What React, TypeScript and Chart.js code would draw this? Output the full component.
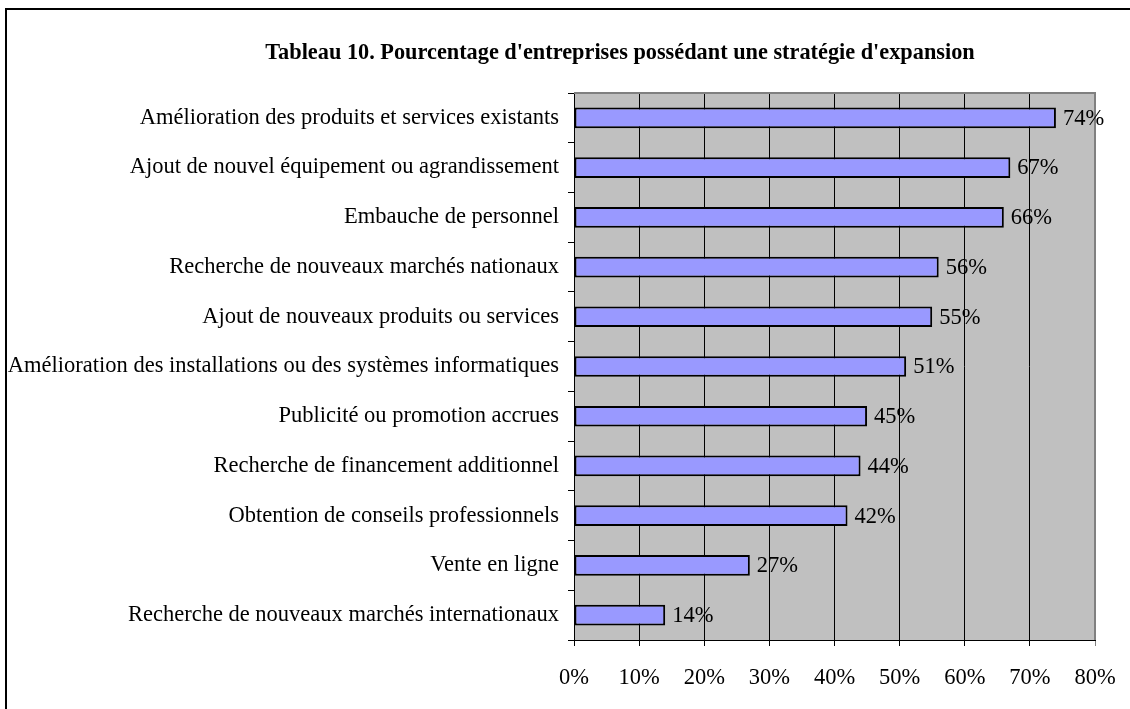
import React, { useEffect, useRef } from "react";
import { Chart, registerables } from "chart.js";

Chart.register(...registerables);

const TITLE = "Tableau 10. Pourcentage d'entreprises possédant une stratégie d'expansion";

const categories = [
  "Amélioration des produits et services existants",
  "Ajout de nouvel équipement ou agrandissement",
  "Embauche de personnel",
  "Recherche de nouveaux marchés nationaux",
  "Ajout de nouveaux produits ou services",
  "Amélioration des installations ou des systèmes informatiques",
  "Publicité ou promotion accrues",
  "Recherche de financement additionnel",
  "Obtention de conseils professionnels",
  "Vente en ligne",
  "Recherche de nouveaux marchés internationaux",
];

const values = [74, 67, 66, 56, 55, 51, 45, 44, 42, 27, 14];

const xTicks = [0, 10, 20, 30, 40, 50, 60, 70, 80];

const FONT = "'Liberation Serif', 'Times New Roman', serif";
const LABEL_SIZE = 22.5;
const TITLE_SIZE = 22.3;

const framePlugin = {
  id: "frame",
  beforeDraw(chart: any) {
    const { ctx, chartArea } = chart;
    ctx.save();
    ctx.fillStyle = "#ffffff";
    ctx.fillRect(0, 0, chart.width, chart.height);
    // outer frame
    ctx.strokeStyle = "#000000";
    ctx.lineWidth = 2;
    ctx.strokeRect(6, 9, chart.width + 10, chart.height + 10);
    // plot background
    ctx.fillStyle = "#C0C0C0";
    ctx.fillRect(chartArea.left, chartArea.top, chartArea.right - chartArea.left, chartArea.bottom - chartArea.top);
    // title
    ctx.fillStyle = "#000000";
    ctx.font = `bold ${TITLE_SIZE}px ${FONT}`;
    ctx.textAlign = "center";
    ctx.textBaseline = "middle";
    ctx.fillText(TITLE, 620, 53);
    ctx.restore();
  },
  afterDraw(chart: any) {
    const { ctx, chartArea } = chart;
    ctx.save();
    ctx.strokeStyle = "#808080";
    ctx.lineWidth = 2;
    ctx.beginPath();
    ctx.moveTo(chartArea.left, chartArea.top);
    ctx.lineTo(chartArea.right, chartArea.top);
    ctx.lineTo(chartArea.right, chartArea.bottom);
    ctx.stroke();
    // value labels
    const meta = chart.getDatasetMeta(0);
    ctx.fillStyle = "#000000";
    ctx.font = `${LABEL_SIZE}px ${FONT}`;
    ctx.textAlign = "left";
    ctx.textBaseline = "middle";
    meta.data.forEach((bar: any, i: number) => {
      ctx.fillText(values[i] + "%", bar.x + 7, bar.y + 1);
    });
    ctx.restore();
  },
};

export default function App() {
  const ref = useRef<HTMLCanvasElement | null>(null);
  useEffect(() => {
    if (!ref.current) return;
    const chart = new Chart(ref.current, {
      type: "bar",
      data: {
        labels: categories,
        datasets: [
          {
            data: values,
            backgroundColor: "#9999FF",
            borderColor: "#000000",
            borderWidth: 2,
            borderSkipped: false,
            categoryPercentage: 0.8,
            barPercentage: 0.52,
          },
        ],
      },
      options: {
        indexAxis: "y",
        responsive: false,
        animation: false,
        events: [],
        layout: { padding: { left: 0, right: 35, top: 93, bottom: 19 } },
        plugins: {
          legend: { display: false },
          title: { display: false },
          tooltip: { enabled: false },
        },
        scales: {
          x: {
            min: 0,
            max: 80,
            afterBuildTicks: (s: any) => {
              s.ticks = xTicks.map((v) => ({ value: v }));
            },
            afterFit: (s: any) => {
              s.height = 50;
              s.paddingLeft = 0;
              s.paddingRight = 0;
            },
            ticks: {
              callback: (v: any) => v + "%",
              color: "#000000",
              font: { family: FONT, size: LABEL_SIZE },
              padding: 19,
              maxRotation: 0,
            },
            grid: {
              color: (c: any) => (c.tick && c.tick.value === 80 ? "#808080" : "#000000"),
              lineWidth: 1,
              tickLength: 6,
            },
            border: { display: true, color: "#000000", width: 1 },
          },
          y: {
            afterFit: (s: any) => {
              s.width = 574;
            },
            ticks: {
              color: "#000000",
              font: { family: FONT, size: LABEL_SIZE },
              padding: 9,
            },
            grid: {
              offset: true,
              drawOnChartArea: false,
              color: "#000000",
              tickLength: 6,
            },
            border: { display: true, color: "#000000", width: 1 },
          },
        },
      },
      plugins: [framePlugin],
    });
    return () => chart.destroy();
  }, []);
  return (
    <canvas
      ref={ref}
      width={1130}
      height={709}
      style={{ position: "absolute", left: 0, top: 0, display: "block" }}
    />
  );
}
